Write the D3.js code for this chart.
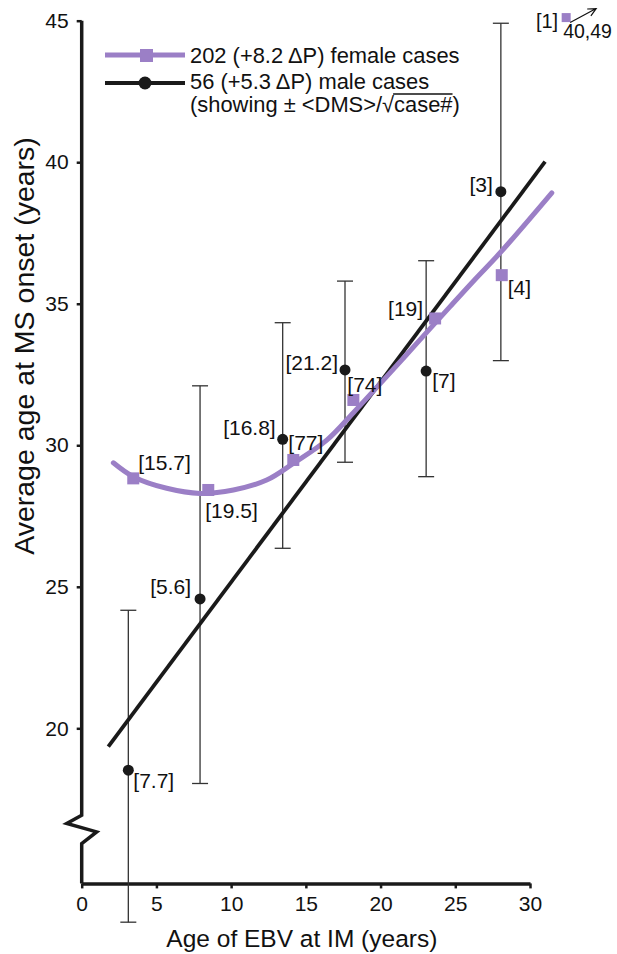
<!DOCTYPE html>
<html>
<head>
<meta charset="utf-8">
<script src="https://cdn.jsdelivr.net/npm/d3@7"></script>
<style>
  body { margin: 0; background: #fff; }
  svg { display: block; font-family: "Liberation Sans", Arial, sans-serif; }
</style>
</head>
<body>
<div id="chart"></div>
<script>
// male cases: mean age at onset with +/- error
var maleX = [3.12, 7.92, 13.45, 17.62, 23.05, 28.05];
var maleY = [18.52, 24.57, 30.21, 32.66, 32.62, 38.96];
var maleLo = [13.15, 18.05, 26.36, 29.4, 28.89, 32.99];
var maleHi = [24.17, 32.1, 34.33, 35.8, 36.52, 44.91];
var maleLabels = ['[7.7]', '[5.6]', '[16.8]', '[21.2]', '[7]', '[3]'];

// female cases
var femaleX = [3.45, 8.47, 14.16, 18.18, 23.65, 28.11];
var femaleY = [28.83, 28.42, 29.48, 31.6, 34.48, 36.01];
var femaleLabels = ['[15.7]', '[19.5]', '[77]', '[74]', '[19]', '[4]'];

// fitted lines
var maleFitX = [1.78, 31.01];
var maleFitY = [19.35, 40.02];
var femaleFitX = [2.12, 3.45, 5.69, 7.92, 10.15, 12.38, 14.16, 16.4, 18.18, 20.19, 22.42, 24.65, 26.3, 28.0, 31.46];
var femaleFitY = [29.38, 28.89, 28.48, 28.30, 28.42, 28.77, 29.36, 30.18, 31.15, 32.3, 33.6, 34.9, 35.85, 36.8, 38.92];

// off-scale female point
var outlierLabel = '[1]';
var outlierValue = '40,49';

var xTicks = [0, 5, 10, 15, 20, 25, 30];
var yTicks = [20, 25, 30, 35, 40, 45];

var legendLabels = ['202 (+8.2 \u0394P) female cases', '56 (+5.3 \u0394P) male cases'];

var width = 617, height = 954;
var purple = '#9b7fc6', ink = '#1a1a1a';

var svg = d3.select('#chart').append('svg')
    .attr('width', width)
    .attr('height', height);

var x = d3.scaleLinear().domain([0, 30]).range([81.7, 530]);
var y = d3.scaleLinear().domain([20, 45]).range([728.3, 20.7]);
var yAxisFloor = 14.52;

// x axis
var xAxis = svg.append('g')
    .attr('transform', 'translate(0,' + y(yAxisFloor) + ')')
    .call(d3.axisBottom(x).tickValues(xTicks).tickSize(5).tickSizeOuter(0).tickPadding(8));
xAxis.select('.domain').attr('stroke', ink).attr('stroke-width', 3.5);
xAxis.selectAll('.tick line').attr('stroke', ink).attr('stroke-width', 2.5);
xAxis.selectAll('.tick text').attr('font-size', 21).attr('font-family', null).attr('fill', '#111');

// y axis (domain drawn by hand because of the break)
var yAxis = svg.append('g')
    .attr('transform', 'translate(' + x(0) + ',0)')
    .call(d3.axisLeft(y).tickValues(yTicks).tickSize(5).tickSizeOuter(0).tickPadding(8));
yAxis.select('.domain').remove();
yAxis.selectAll('.tick line').attr('stroke', ink).attr('stroke-width', 2.5);
yAxis.selectAll('.tick text').attr('font-size', 21).attr('font-family', null).attr('fill', '#111');

var breakX = [0, 0, -1.0, 1.0, 0, 0];
var breakY = [45, 16.93, 16.64, 16.34, 15.93, yAxisFloor];
svg.append('path')
    .attr('d', d3.line().x(function(d) { return x(d[0]); }).y(function(d) { return y(d[1]); })(d3.zip(breakX, breakY)))
    .attr('fill', 'none')
    .attr('stroke', ink)
    .attr('stroke-width', 3.5)
    .attr('stroke-linejoin', 'miter');

// axis titles
svg.append('text')
    .attr('x', x(15) - 4).attr('y', 947)
    .attr('text-anchor', 'middle')
    .attr('font-size', 24.5).attr('fill', '#111')
    .text('Age of EBV at IM (years)');

svg.append('text')
    .attr('transform', 'translate(24,346) rotate(-90)')
    .attr('text-anchor', 'middle')
    .attr('dominant-baseline', 'central')
    .attr('font-size', 28.5).attr('fill', '#111')
    .text('Average age at MS onset (years)');

// error bars
var male = maleX.map(function(d, i) {
  return { x: d, y: maleY[i], lo: maleLo[i], hi: maleHi[i], label: maleLabels[i] };
});
var female = femaleX.map(function(d, i) {
  return { x: d, y: femaleY[i], label: femaleLabels[i] };
});

var bars = svg.append('g').attr('stroke', '#333').attr('stroke-width', 1.3).attr('fill', 'none');
male.forEach(function(d) {
  bars.append('line').attr('x1', x(d.x)).attr('x2', x(d.x)).attr('y1', y(d.lo)).attr('y2', y(d.hi));
  bars.append('line').attr('x1', x(d.x) - 8).attr('x2', x(d.x) + 8).attr('y1', y(d.lo)).attr('y2', y(d.lo));
  bars.append('line').attr('x1', x(d.x) - 8).attr('x2', x(d.x) + 8).attr('y1', y(d.hi)).attr('y2', y(d.hi));
});

// fitted lines
var line = d3.line().x(function(d) { return x(d[0]); }).y(function(d) { return y(d[1]); });

svg.append('path')
    .attr('d', line(d3.zip(maleFitX, maleFitY)))
    .attr('fill', 'none')
    .attr('stroke', ink)
    .attr('stroke-width', 3.8);

svg.append('path')
    .attr('d', line.curve(d3.curveCatmullRom)(d3.zip(femaleFitX, femaleFitY)))
    .attr('fill', 'none')
    .attr('stroke', purple)
    .attr('stroke-width', 5)
    .attr('stroke-linecap', 'round');

// markers
svg.selectAll('rect.female')
    .data(female)
    .enter().append('rect')
    .attr('class', 'female')
    .attr('x', function(d) { return x(d.x) - 6; })
    .attr('y', function(d) { return y(d.y) - 6; })
    .attr('width', 12).attr('height', 12)
    .attr('fill', purple);

svg.selectAll('circle.male')
    .data(male)
    .enter().append('circle')
    .attr('class', 'male')
    .attr('cx', function(d) { return x(d.x); })
    .attr('cy', function(d) { return y(d.y); })
    .attr('r', 5.5)
    .attr('fill', ink);

// case-count labels  [dx, dy, anchor]
var maleOffsets = [[5, 10, 'start'], [-9, -12, 'end'], [-7, -12, 'end'], [-7, -7, 'end'], [6, 9, 'start'], [-8, -7, 'end']];
var femaleOffsets = [[5, -16, 'start'], [-3, 21, 'start'], [-5, -17, 'start'], [-6, -15, 'start'], [-12, -10, 'end'], [6, 12, 'start']];

function labels(data, offsets) {
  svg.append('g').selectAll('text')
      .data(data)
      .enter().append('text')
      .attr('x', function(d, i) { return x(d.x) + offsets[i][0]; })
      .attr('y', function(d, i) { return y(d.y) + offsets[i][1]; })
      .attr('text-anchor', function(d, i) { return offsets[i][2]; })
      .attr('dominant-baseline', 'central')
      .attr('font-size', 21)
      .attr('fill', '#111')
      .text(function(d) { return d.label; });
}
labels(male, maleOffsets);
labels(female, femaleOffsets);

// off-scale point, drawn in the top right corner
var ox = x(32.42), oy = y(45.11);
svg.append('rect')
    .attr('x', ox - 4.5).attr('y', oy - 4.5)
    .attr('width', 9).attr('height', 9)
    .attr('fill', purple);
svg.append('text')
    .attr('x', ox - 8).attr('y', oy + 3)
    .attr('text-anchor', 'end')
    .attr('dominant-baseline', 'central')
    .attr('font-size', 20).attr('fill', '#111')
    .text(outlierLabel);
svg.append('text')
    .attr('x', ox - 3).attr('y', oy + 20)
    .attr('font-size', 19.5).attr('fill', '#111')
    .text(outlierValue);
var ax0 = ox + 4, ay0 = oy + 5, ax1 = ox + 30, ay1 = oy - 9;
var ang = Math.atan2(ay1 - ay0, ax1 - ax0);
svg.append('path')
    .attr('d', 'M' + ax0 + ',' + ay0 + 'L' + ax1 + ',' + ay1 +
      'M' + (ax1 - 9 * Math.cos(ang - 0.45)) + ',' + (ay1 - 9 * Math.sin(ang - 0.45)) +
      'L' + ax1 + ',' + ay1 +
      'L' + (ax1 - 9 * Math.cos(ang + 0.45)) + ',' + (ay1 - 9 * Math.sin(ang + 0.45)))
    .attr('fill', 'none')
    .attr('stroke', '#111')
    .attr('stroke-width', 1.2);

// legend
var lg = svg.append('g');
lg.append('line').attr('x1', 105).attr('x2', 185).attr('y1', 55).attr('y2', 55)
    .attr('stroke', purple).attr('stroke-width', 5);
lg.append('rect').attr('x', 140).attr('y', 49).attr('width', 13).attr('height', 13).attr('fill', purple);
lg.append('line').attr('x1', 105).attr('x2', 185).attr('y1', 83).attr('y2', 83)
    .attr('stroke', ink).attr('stroke-width', 4);
lg.append('circle').attr('cx', 145).attr('cy', 83).attr('r', 6.5).attr('fill', ink);

lg.selectAll('text.leg')
    .data(legendLabels)
    .enter().append('text')
    .attr('class', 'leg')
    .attr('x', 190)
    .attr('y', function(d, i) { return 62.5 + i * 26; })
    .attr('font-size', 21.9)
    .attr('fill', '#111')
    .text(function(d) { return d; });

var note = lg.append('text').attr('x', 190).attr('y', 112).attr('font-size', 21.9).attr('fill', '#111');
var pre = note.append('tspan').text('(showing \u00b1 <DMS>/\u221a');
var rad = note.append('tspan').text('case#');
note.append('tspan').text(')');
var preW = pre.node().getComputedTextLength();
var radW = rad.node().getComputedTextLength();
lg.append('line')
    .attr('x1', 190 + preW - 1).attr('x2', 190 + preW + radW)
    .attr('y1', 94).attr('y2', 94)
    .attr('stroke', '#111').attr('stroke-width', 1.3);
</script>
</body>
</html>
